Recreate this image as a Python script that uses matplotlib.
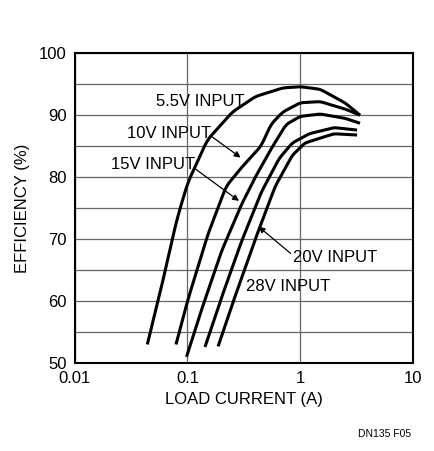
import numpy as np
import matplotlib
matplotlib.use("Agg")
import matplotlib.pyplot as plt

plt.rcParams['font.family'] = ['Liberation Sans Narrow', 'Liberation Sans', 'DejaVu Sans']

x55 = [0.044, 0.06, 0.08, 0.1, 0.15, 0.25, 0.4, 0.7, 1.0, 1.5, 2.5, 3.4]
y55 = [53, 63, 73, 79, 86, 90.5, 93, 94.4, 94.6, 94.2, 92, 90]
x10 = [0.079, 0.1, 0.15, 0.22, 0.3, 0.45, 0.55, 0.7, 1.0, 1.5, 2.5, 3.4]
y10 = [53, 60, 70.5, 78.5, 81.5, 85, 88.5, 90.5, 92, 92.2, 91, 90]
x15 = [0.098, 0.13, 0.2, 0.3, 0.4, 0.55, 0.75, 1.0, 1.5, 2.5, 3.4]
y15 = [51, 58, 68, 75.5, 80, 84.5, 88.5, 89.8, 90.2, 89.5, 88.7]
x20 = [0.143, 0.2, 0.3, 0.45, 0.65, 0.85, 1.2, 2.0, 3.2]
y20 = [52.6, 60.5, 69.5, 77.5, 83, 85.5, 87, 88, 87.6]
x28 = [0.187, 0.25, 0.4, 0.6, 0.85, 1.1, 1.5, 2.0, 3.2]
y28 = [52.7, 59.5, 70, 78.5, 83.5, 85.5, 86.3, 87, 86.8]

fig = plt.figure(figsize=(4.35, 4.51), dpi=100)
ax = fig.add_axes([0.172, 0.195, 0.777, 0.687])

def smooth(xs, ys):
    lx = np.log10(xs)
    t = np.linspace(lx[0], lx[-1], 300)
    y = np.interp(t, lx, ys)
    k = 5
    yp = np.convolve(np.pad(y, k, mode='reflect', reflect_type='odd'), np.ones(2*k+1)/(2*k+1), mode='valid')
    return 10**t, yp

for xs, ys in [(x55, y55), (x10, y10), (x15, y15), (x20, y20), (x28, y28)]:
    sx, sy = smooth(xs, ys)
    ax.plot(sx, sy, color='black', lw=2.2, solid_capstyle='butt')

ax.set_xscale('log')
ax.set_xlim(0.01, 10)
ax.set_ylim(50, 100)
ax.set_yticks([50, 60, 70, 80, 90, 100])
ax.set_yticks(np.arange(50, 101, 5), minor=True)
ax.xaxis.set_minor_locator(matplotlib.ticker.NullLocator())
ax.set_xticks([0.01, 0.1, 1, 10])
ax.set_xticklabels(['0.01', '0.1', '1', '10'])
ax.grid(True, which='both', color='#666666', lw=0.9)
ax.tick_params(which='both', length=0, labelsize=12, pad=6)
for s in ax.spines.values():
    s.set_linewidth(1.5)
ax.set_xlabel('LOAD CURRENT (A)', fontsize=12, labelpad=4)
ax.set_ylabel('EFFICIENCY (%)', fontsize=12, labelpad=6)

fs = 12
ax.text(0.13, 92.2, '5.5V INPUT', fontsize=fs, ha='center', va='center')
ax.text(0.068, 87.1, '10V INPUT', fontsize=fs, ha='center', va='center')
ax.text(0.049, 82, '15V INPUT', fontsize=fs, ha='center', va='center')
ax.text(2.03, 67.1, '20V INPUT', fontsize=fs, ha='center', va='center')
ax.text(0.78, 62.4, '28V INPUT', fontsize=fs, ha='center', va='center')
ap = dict(arrowstyle='-|>', color='black', lw=0.9, mutation_scale=9)
ax.annotate('', xy=(0.31, 82.9), xytext=(0.157, 86.8), arrowprops=ap)
ax.annotate('', xy=(0.30, 75.9), xytext=(0.112, 81.6), arrowprops=ap)
ax.annotate('', xy=(0.41, 72.3), xytext=(0.86, 67.4), arrowprops=ap)

fig.text(0.945, 0.03, 'DN135 F05', fontsize=7.5, ha='right')
fig.savefig('out.png', dpi=100)
